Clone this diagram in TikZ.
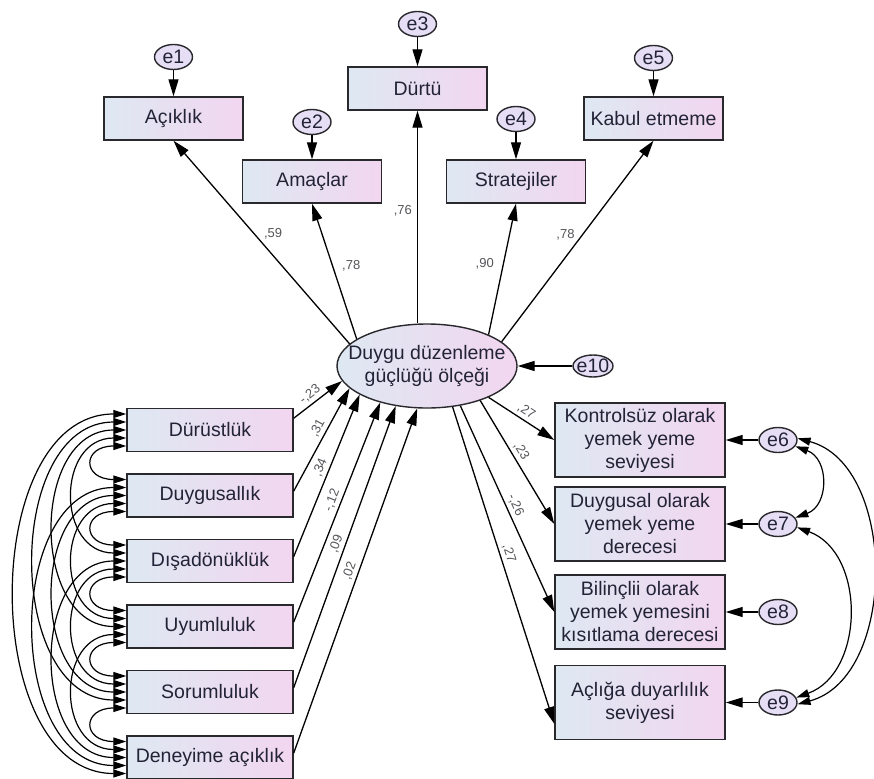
\documentclass[tikz,border=0pt]{standalone}
\usepackage{fontspec}
\setmainfont{Liberation Sans}
\usepackage{tikz}
\usetikzlibrary{shapes.geometric, arrows.meta, positioning, calc}
\definecolor{sleft}{RGB}{222,232,242}
\definecolor{sright}{RGB}{242,214,240}
\definecolor{serr}{RGB}{230,222,244}
\definecolor{sedge}{RGB}{40,40,45}
\definecolor{stext}{RGB}{35,35,55}
\definecolor{sgray}{RGB}{85,85,90}

\begin{document}
\begin{tikzpicture}[x=1pt,y=-1pt,
    font=\fontsize{19.5}{23}\selectfont,
    obsbox/.style={draw=sedge,line width=1.4pt,left color=sleft,right color=sright,
      text=stext,align=center,inner sep=1pt},
    topbox/.style={obsbox,minimum width=139pt,minimum height=43pt},
    leftbox/.style={obsbox,minimum width=166pt,minimum height=43pt},
    rightbox/.style={obsbox,minimum width=170pt,minimum height=74pt},
    latent/.style={ellipse,draw=sedge,line width=1.4pt,left color=sleft,right color=sright,
      text=stext,align=center,minimum width=180pt,minimum height=84pt,inner xsep=-17pt},
    err/.style={ellipse,draw=sedge,line width=1.4pt,fill=serr,text=stext,
      minimum width=38pt,minimum height=25pt,inner xsep=-3pt,inner ysep=0pt},
    reg/.style={line width=1.3pt,-{Triangle[length=17pt,width=10pt]}},
    cov/.style={line width=1.2pt,{Triangle[length=13pt,width=8pt]}-{Triangle[length=13pt,width=8pt]}},
    lbl/.style={text=sgray,font=\fontsize{13}{14}\selectfont,inner sep=1pt}]

  \useasboundingbox (0,0) rectangle (874,778);

  % latent factor
  \node[latent] (ddo) at (427,366) {Duygu düzenleme\\güçlüğü ölçeği};
  \node[err,minimum width=40pt,minimum height=22pt] (e10) at (593,366) {e10};
  \draw[reg] (e10) -- (ddo);

  % subscales
  \node[topbox] (acik) at (173.5,118.5) {Açıklık};
  \node[topbox] (amac) at (312,181.5) {Amaçlar};
  \node[topbox] (durt) at (417.5,88.5) {Dürtü};
  \node[topbox] (stra) at (516,181.5) {Stratejiler};
  \node[topbox] (kabul) at (653.5,118.5) {Kabul etmeme};

  \foreach \b/\e/\y in {acik/e1/57,amac/e2/122,durt/e3/24,stra/e4/119,kabul/e5/58}{
    \node[err] (\e) at (\b |- 0,\y) {\e};
    \draw[reg] (\e) -- (\b);
  }

  \draw[reg] (ddo.164.7) -- (acik.south) node[lbl,pos=.54,right=8pt]{,59};
  \draw[reg] (ddo.159.4) -- (amac.south) node[lbl,pos=.54,right=8pt]{,78};
  \draw[reg] (ddo.north -| durt.south) -- (durt.south) node[lbl,pos=.53,left=4pt]{,76};
  \draw[reg] (ddo.27.3) -- (stra.south) node[lbl,pos=.54,left=8pt]{,90};
  \draw[reg] (ddo.18.6) -- (kabul.south) node[lbl,pos=.53,left=6pt]{,78};

  % eating outcomes
  \node[rightbox] (r1) at (640,440) {Kontrolsüz olarak\\yemek yeme\\seviyesi};
  \node[rightbox] (r2) at (640,524) {Duygusal olarak\\yemek yeme\\derecesi};
  \node[rightbox] (r3) at (640,612) {Bilinçlii olarak\\yemek yemesini\\kısıtlama derecesi};
  \node[rightbox] (r4) at (640,702.5) {Açlığa duyarlılık\\seviyesi};

  \foreach \r/\e in {r1/e6,r2/e7,r3/e8,r4/e9}{
    \node[err] (\e) at (\r -| 778,0) {\e};
    \draw[reg] (\e) -- (\r);
  }

  \draw[reg] (ddo.-27) -- (r1.west) node[lbl,pos=.5,sloped,above=2pt]{,27};
  \draw[reg] (ddo.-33) -- (r2.west) node[lbl,pos=.45,sloped,above=2pt]{,23};
  \draw[reg] (ddo.-50) -- (r3.west) node[lbl,pos=.5,sloped,above=2pt]{-,26};
  \draw[reg] (ddo.-58) -- (r4.194.5) node[lbl,pos=.47,sloped,above=2pt]{,27};

  \draw[cov] (e6.-20) to[out=-20,in=20,looseness=1.3] (e7.20);
  \draw[cov] (e7.-10) to[out=-20,in=20,looseness=1.1] (e9.15);
  \draw[cov] (e6.5) to[out=-15,in=15,looseness=1.0] (e9.-5);

  % personality traits
  \foreach \t [count=\i] in {Dürüstlük,Duygusallık,Dışadönüklük,Uyumluluk,Sorumluluk,Deneyime açıklık}{
    \node[leftbox] (l\i) at (210,{430+65.5*(\i-1)}) {\t};
  }

  \foreach \i/\a/\b/\v/\p in {1/8/190.8/{-,23}/.45, 2/3/196.7/{,31}/.57,
      3/3/203.2/{,34}/.53, 4/3/218/{-,12}/.54, 5/3/232.7/{,09}/.5, 6/3/257.7/{,02}/.52}{
    \draw[reg] (l\i.\a) -- (ddo.\b) node[lbl,pos=\p,sloped,above=2pt]{\v};
  }

  % covariances between traits
  \foreach \i in {1,...,5}{
    \pgfmathtruncatemacro\k{\i+1}
    \foreach \j in {\k,...,6}{
      \pgfmathsetmacro\oa{-16+8*(\i-1+6-\j)}
      \pgfmathsetmacro\ob{-16+8*(\j-\i-1)}
      \pgfmathsetmacro\ch{65.5*(\j-\i)+\ob-\oa}
      \pgfmathsetmacro\lo{(14+19.5*(\j-\i))/(0.294*\ch)}
      \draw[cov] ($(l\i.west)+(0,\oa)$) to[out=180,in=180,looseness=\lo] ($(l\j.west)+(0,\ob)$);
    }
  }
\end{tikzpicture}
\end{document}
